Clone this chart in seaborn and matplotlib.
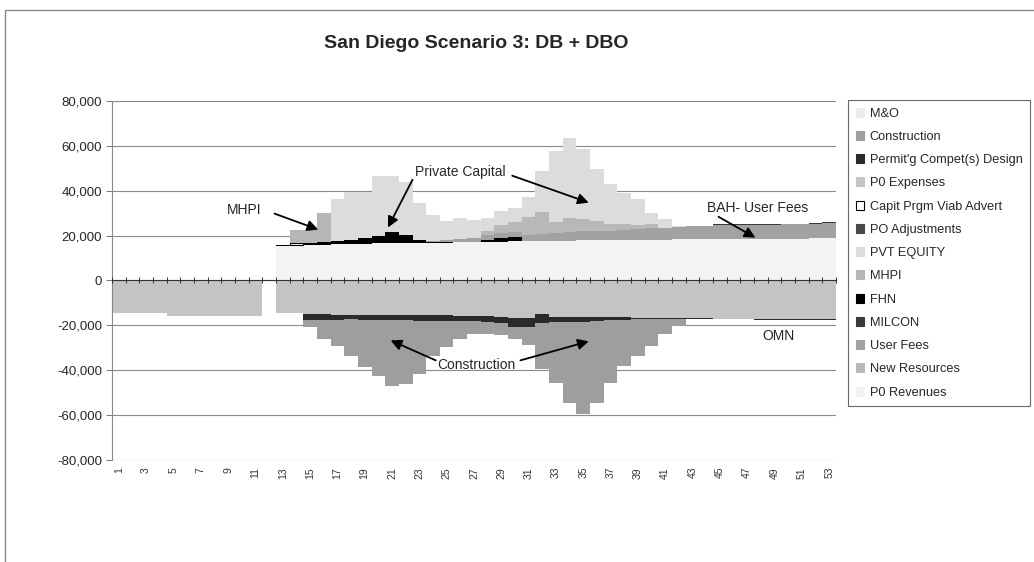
import numpy as np
import matplotlib
matplotlib.use("Agg")
import matplotlib.pyplot as plt
from matplotlib.patches import Rectangle, Patch
from matplotlib.ticker import FuncFormatter, MultipleLocator
import seaborn as sns

# periods 1..53
periods = list(range(1, 54))

# revenues (stacked upward)
p0_revenues = [0] * 12 + [15500, 15600, 16000, 16000, 16200, 16300, 16400, 16500, 16500, 16600,
                          16700, 16800, 16900, 17000, 17100, 17200, 17300, 17400, 17500, 17600,
                          17700, 17800, 17900, 18000, 18000, 18100, 18100, 18200, 18200, 18300,
                          18300, 18400, 18400, 18500, 18500, 18600, 18600, 18700, 18700, 18800, 18800]
capit_prgm = [0] * 13 + [1200] + [0] * 39
fhn = [0] * 12 + [300, 0, 700, 1000, 1300, 1900, 2600, 3500, 5000, 3500,
                  1500, 400, 200, 0, 200, 1000, 1800, 1800] + [0] * 23
user_fees = [0] * 23 + [500, 1000, 1500, 1800, 2000, 2000, 2500, 2800, 3000, 3500,
                        4000, 4000, 4000, 4200, 4500, 4700, 5000, 5200, 5500, 5800,
                        5800, 6300, 6400, 6200, 6200, 6300, 6300, 6400, 6500, 6900]
milcon = [0] * 42 + [300] * 11
new_resources = [0] * 27 + [2000, 3500, 4500, 8000, 10000, 5000, 6000, 5500, 4500, 3000,
                            2500, 2000, 2000] + [0] * 13
mhpi = [0] * 13 + [5600, 5700, 13000] + [0] * 37
pvt_equity = [0] * 16 + [18800, 21400, 20600, 26500, 25000, 23900, 16300, 11500, 8300, 9300,
                         8000, 5800, 6500, 6100, 9000, 18000, 31700, 35700, 31100, 23000,
                         17600, 13700, 11400, 4800, 4000, 300] + [0] * 11

# expenses (stacked downward)
po_adjustments = [0] * 53
p0_expenses = [-14500] * 4 + [-16000] * 7 + [0] + [
    -14500, -14500, -15000, -15000, -15200, -15300, -15400, -15300, -15200, -15300,
    -15500, -15600, -15600, -15700, -15800, -16000, -16300, -16600, -16600, -15100,
    -16100, -16100, -16100, -16200, -16300, -16400, -16500, -16600, -16700, -16800,
    -16900, -16900, -17000, -17000, -17000, -17100, -17100, -17100, -17200, -17200, -17300]
permit_design = [0] * 14 + [-2500, -2500, -2300, -2000, -2000, -2300, -2600, -2500, -2500, -2600,
                            -2500, -2200, -2300, -2500, -2800, -4000, -4000, -3700, -2400, -2400,
                            -2400, -1800, -1500, -1000, -600, -500, -400, -300] + [-300] * 11
construction = [0] * 14 + [-3400, -8500, -11800, -16500, -21300, -24900, -29200, -28200, -23500, -15600,
                           -11400, -8300, -5600, -5500, -5200, -5600, -8000, -20700, -27000, -35900,
                           -41000, -36400, -27700, -20700, -16500, -12100, -6900, -3200] + [0] * 11
m_and_o = [0] * 53

legend_order = ["M&O", "Construction", "Permit'g Compet(s) Design", "P0 Expenses",
                "Capit Prgm Viab Advert", "PO Adjustments", "PVT EQUITY", "MHPI", "FHN",
                "MILCON", "User Fees", "New Resources", "P0 Revenues"]

colors = {
    "M&O": "#ececec", "Construction": "#9e9e9e", "Permit'g Compet(s) Design": "#2a2a2a",
    "P0 Expenses": "#c4c4c4", "Capit Prgm Viab Advert": "#ffffff", "PO Adjustments": "#4a4a4a",
    "PVT EQUITY": "#dcdcdc", "MHPI": "#b6b6b6", "FHN": "#000000", "MILCON": "#3a3a3a",
    "User Fees": "#a2a2a2", "New Resources": "#b8b8b8", "P0 Revenues": "#f3f3f3",
}

pos_series = [("P0 Revenues", p0_revenues), ("Capit Prgm Viab Advert", capit_prgm), ("FHN", fhn),
              ("User Fees", user_fees), ("MILCON", milcon), ("New Resources", new_resources),
              ("MHPI", mhpi), ("PVT EQUITY", pvt_equity)]
neg_series = [("PO Adjustments", po_adjustments), ("P0 Expenses", p0_expenses),
              ("Permit'g Compet(s) Design", permit_design), ("Construction", construction),
              ("M&O", m_and_o)]

sns.set_style("white")
plt.rcParams['font.family'] = ['Liberation Sans', 'DejaVu Sans']

fig = plt.figure(figsize=(10.34, 5.62), dpi=100)
ax = fig.add_axes([0.1083, 0.1815, 0.7002, 0.6388])

x = np.arange(len(periods))


def stack(series):
    bottom = np.zeros(len(periods))
    for name, vals in series:
        v = np.array(vals, dtype=float)
        m = v != 0
        edge = "black" if name == "Capit Prgm Viab Advert" else "none"
        ax.bar(x[m], v[m], bottom=bottom[m], width=1.0, color=colors[name],
               edgecolor=edge, linewidth=0.8 if edge != "none" else 0, zorder=2)
        bottom += v


stack(pos_series)
stack(neg_series)

ax.set_xlim(-0.5, len(periods) - 0.5)
ax.set_ylim(-80000, 80000)
ax.yaxis.set_major_locator(MultipleLocator(20000))
ax.yaxis.set_major_formatter(FuncFormatter(lambda v, p: f"{v:,.0f}"))
ax.grid(axis="y", color="#8a8a8a", linewidth=0.8)
ax.set_axisbelow(True)
ax.tick_params(axis="y", length=4, width=0.7, color="#777", labelsize=9.5, pad=3, left=True)

ax.set_xticks(x[::2])
ax.set_xticklabels([str(p) for p in periods[::2]], rotation=90, fontsize=7.5, color="#333")
ax.tick_params(axis="x", length=0, pad=5)

for s in ["top", "right", "bottom"]:
    ax.spines[s].set_visible(False)
ax.spines["left"].set_color("#888")
ax.spines["left"].set_linewidth(0.8)

# category axis crossing at zero
sec = ax.secondary_xaxis(0.5)
sec.set_zorder(5)
sec.set_xticks(np.arange(len(periods) + 1) - 0.5)
sec.tick_params(axis="x", which="both", length=4, direction="inout", width=0.7,
                labelbottom=False, labeltop=False, colors="#333")
for s in sec.spines.values():
    s.set_color("#333")
    s.set_linewidth(0.8)

# annotations
arrow = dict(arrowstyle="-|>", color="black", lw=1.3, mutation_scale=16, shrinkA=0, shrinkB=0)
ax.text(9.2, 31500, "MHPI", ha="center", va="center", fontsize=10)
ax.annotate("", xy=(14.6, 22700), xytext=(11.4, 29800), arrowprops=arrow)
ax.text(25.0, 48400, "Private Capital", ha="center", va="center", fontsize=10)
ax.annotate("", xy=(19.7, 23600), xytext=(21.5, 44900), arrowprops=arrow)
ax.annotate("", xy=(34.4, 34700), xytext=(28.8, 46700), arrowprops=arrow)
ax.text(46.8, 32400, "BAH- User Fees", ha="center", va="center", fontsize=10)
ax.annotate("", xy=(46.6, 19100), xytext=(43.9, 28400), arrowprops=arrow)
ax.text(26.2, -37800, "Construction", ha="center", va="center", fontsize=10)
ax.annotate("", xy=(19.9, -26700), xytext=(23.2, -35600), arrowprops=arrow)
ax.annotate("", xy=(34.4, -27100), xytext=(29.4, -35600), arrowprops=arrow)
ax.text(48.3, -24900, "OMN", ha="center", va="center", fontsize=10)

fig.text(476 / 1034, 1 - 44 / 562, "San Diego Scenario 3: DB + DBO", ha="center", va="center",
         fontsize=14, fontweight="bold")

handles = [Patch(facecolor=colors[n], edgecolor="black" if n == "Capit Prgm Viab Advert" else colors[n],
                 linewidth=0.8, label=n) for n in legend_order]
leg = fig.legend(handles=handles, loc="upper left", bbox_to_anchor=(0.820, 0.822),
                 frameon=True, fancybox=False, fontsize=9.2, handlelength=0.7, handleheight=0.7,
                 handletextpad=0.4, labelspacing=0.88, borderpad=0.6, borderaxespad=0)
leg.get_frame().set_edgecolor("#444")
leg.get_frame().set_linewidth(0.8)

# chart area border
fig.patches.append(Rectangle((0.005, -0.05), 1.2, 1.032, transform=fig.transFigure,
                             fill=False, edgecolor="#888", linewidth=1))

fig.savefig("out.png", dpi=100)
